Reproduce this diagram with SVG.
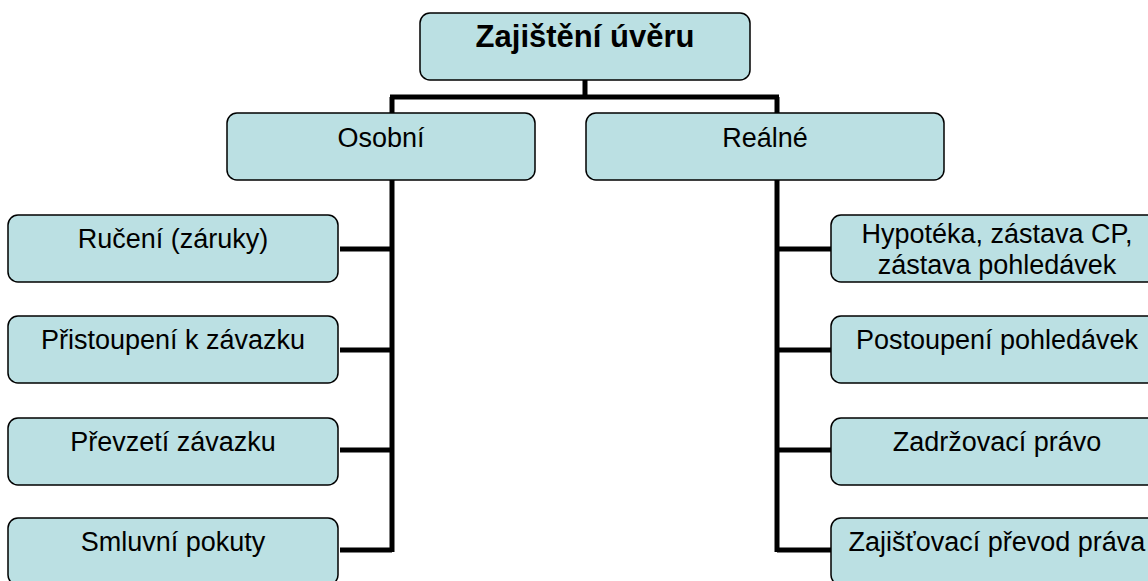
<svg xmlns="http://www.w3.org/2000/svg" width="1148" height="581" viewBox="0 0 1148 581">
<style>
.box{fill:#bbe0e3;stroke:#000;stroke-width:1.5}
.t{font-family:"Liberation Sans",Arial,sans-serif;font-size:27px;fill:#000;text-anchor:middle}
.title{font-family:"Liberation Sans",Arial,sans-serif;font-size:31px;font-weight:bold;fill:#000;text-anchor:middle}
.c{stroke:#000;stroke-width:5;fill:none}
</style>
<rect width="1148" height="581" fill="#fff"/>
<g id="connectors">
<path class="c" d="M585 80V97M390 97H779"/>
<path class="c" d="M392 97V552M340 249H392M340 350H392M340 450H392M340 550H392"/>
<path class="c" d="M777 97V552M777 249H831M777 350H831M777 450H831M777 550H831"/>
</g>
<g id="root"><rect class="box" x="420" y="13" width="330" height="67" rx="10"/><text class="title" x="585" y="47">Zajištění úvěru</text></g>
<g id="osobni"><rect class="box" x="227" y="113" width="308" height="67" rx="10"/><text class="t" x="381" y="147">Osobní</text></g>
<g id="realne"><rect class="box" x="586" y="113" width="358" height="67" rx="10"/><text class="t" x="765" y="147">Reálné</text></g>
<g id="ruceni"><rect class="box" x="8" y="215" width="330" height="67" rx="10"/><text class="t" x="173" y="248">Ručení (záruky)</text></g>
<g id="pristoupeni"><rect class="box" x="8" y="316" width="330" height="67" rx="10"/><text class="t" x="173" y="349">Přistoupení k závazku</text></g>
<g id="prevzeti"><rect class="box" x="8" y="418" width="330" height="67" rx="10"/><text class="t" x="173" y="451">Převzetí závazku</text></g>
<g id="smluvni"><rect class="box" x="8" y="518" width="330" height="67" rx="10"/><text class="t" x="173" y="551">Smluvní pokuty</text></g>
<g id="hypoteka"><rect class="box" x="831" y="215" width="332" height="67" rx="10"/><text class="t" x="997" y="243">Hypotéka, zástava CP,</text><text class="t" x="997" y="274">zástava pohledávek</text></g>
<g id="postoupeni"><rect class="box" x="831" y="316" width="332" height="67" rx="10"/><text class="t" x="997" y="349">Postoupení pohledávek</text></g>
<g id="zadrzovaci"><rect class="box" x="831" y="418" width="332" height="67" rx="10"/><text class="t" x="997" y="451">Zadržovací právo</text></g>
<g id="zajistovaci"><rect class="box" x="831" y="518" width="332" height="67" rx="10"/><text class="t" x="997" y="551">Zajišťovací převod práva</text></g>
</svg>
